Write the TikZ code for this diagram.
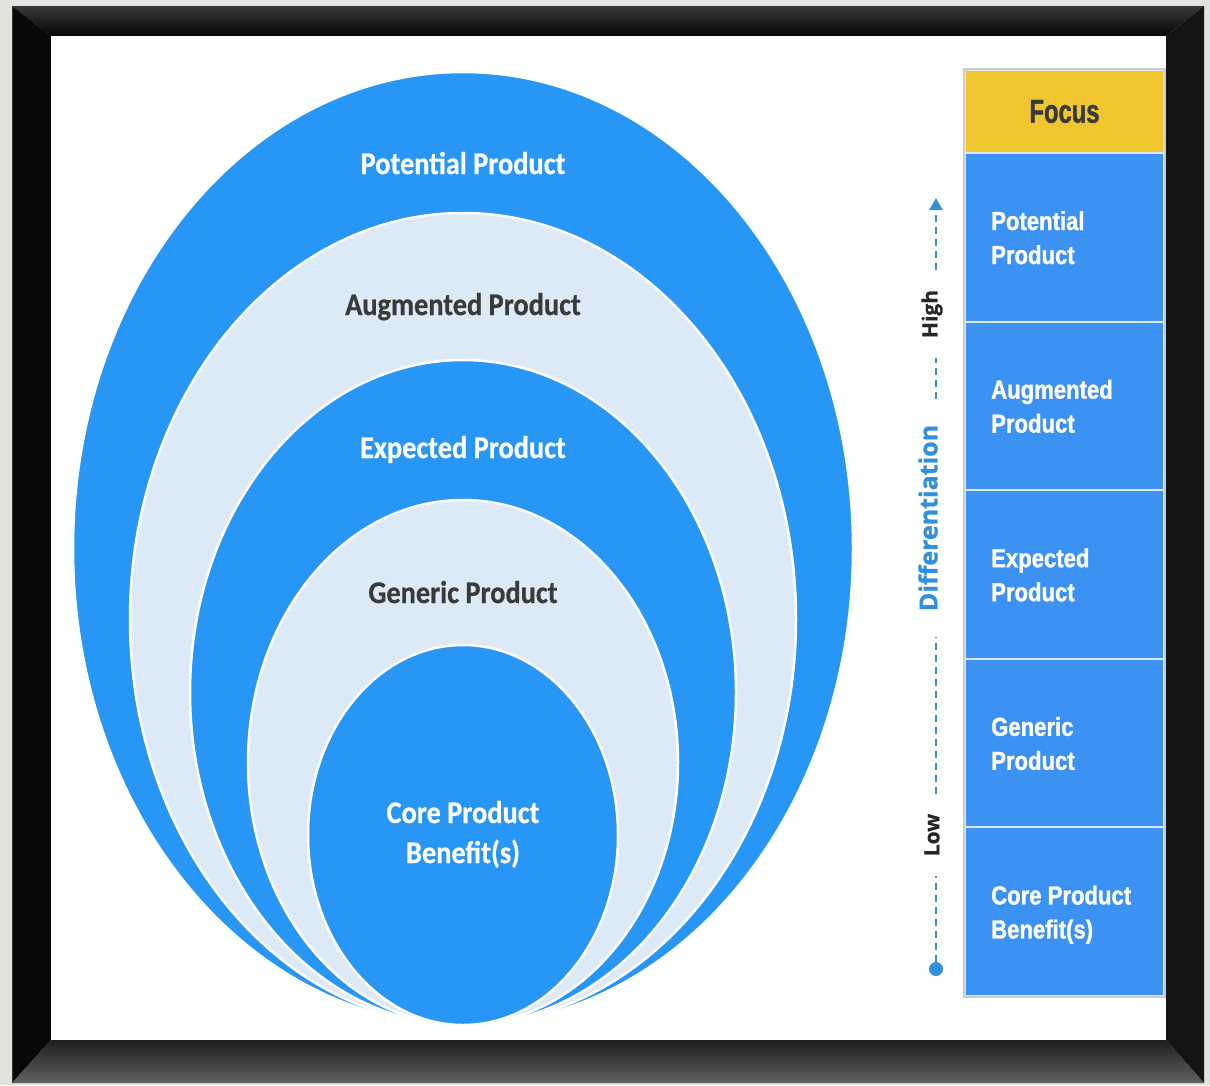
\documentclass[tikz,border=0pt]{standalone}
\usepackage{fontspec}
\usetikzlibrary{arrows.meta}
\newfontfamily\ringfont[FakeStretch=0.9,BoldFeatures={FakeBold=0.6}]{Carlito}
\newfontfamily\cellfont[FakeStretch=0.85,BoldFeatures={FakeBold=1.2}]{Liberation Sans}
\newfontfamily\headfont[FakeStretch=0.72,BoldFeatures={FakeBold=1.2}]{Liberation Sans}
\newfontfamily\axisfont[BoldFeatures={FakeBold=0.8}]{Open Sans}
\definecolor{ringblue}{HTML}{2896F5}
\definecolor{ringlight}{HTML}{DCE9F6}
\definecolor{cellblue}{HTML}{3B92F2}
\definecolor{cellline}{HTML}{DCE5EE}
\definecolor{focusyellow}{HTML}{F0C62E}
\definecolor{axisblue}{HTML}{3090DD}
\definecolor{inkdark}{HTML}{3A3A3A}
\definecolor{wallgray}{HTML}{E4E2DE}
\begin{document}
\begin{tikzpicture}[x=1pt,y=-1pt,
  ringdark/.style={fill=ringblue,draw=white,line width=2.5pt},
  ringpale/.style={fill=ringlight,draw=white,line width=2.5pt},
  ringlabel/.style={anchor=base,inner sep=0pt,font=\ringfont\bfseries\fontsize{31.5}{38}\selectfont},
  cellbox/.style={fill=cellblue,draw=cellline,line width=2pt,minimum width=199pt,minimum height=168.6pt,inner sep=0pt},
  headbox/.style={fill=focusyellow,draw=cellline,line width=2pt,minimum width=199pt,minimum height=83pt,inner sep=0pt,
    text=inkdark,font=\headfont\bfseries\fontsize{33}{40}\selectfont},
  celltext/.style={anchor=base west,inner sep=0pt,text=white,font=\cellfont\bfseries\fontsize{26}{34}\selectfont},
  axislabel/.style={rotate=90,inner ysep=0pt,inner xsep=20pt,font=\axisfont\bfseries\fontsize{21}{25}\selectfont,text=black!85},
  axisline/.style={draw=axisblue,line width=2.8pt,dash pattern=on 7pt off 5pt}
]
\useasboundingbox (0,0) rectangle (1210,1085);

% wall and picture frame
\fill[wallgray] (0,0) rectangle (1210,1085);
\shade[top color=black!78,bottom color=black!98] (12,6) -- (1204,6) -- (1166,36) -- (51,36) -- cycle;
\fill[black!97] (12,6) -- (51,36) -- (51,1040) -- (12,1083) -- cycle;
\fill[black!92] (1204,6) -- (1166,36) -- (1166,1040) -- (1204,1083) -- cycle;
\shade[top color=black!88,middle color=black!84,bottom color=black!62] (12,1083) -- (51,1040) -- (1166,1040) -- (1204,1083) -- cycle;
\draw[black!80,line width=1pt] (12.5,6) -- (12.5,1083);
\fill[white] (51,36) rectangle (1166,1040);

% nested product levels, all touching at the bottom
\path[ringdark] (463,548.5) ellipse [x radius=390pt, y radius=476.5pt];
\path[ringpale] (463,619) ellipse [x radius=333pt, y radius=406pt];
\path[ringdark] (463,692.5) ellipse [x radius=273pt, y radius=332.5pt];
\path[ringpale] (463,762.5) ellipse [x radius=215pt, y radius=262.5pt];
\path[ringdark] (463,835) ellipse [x radius=155pt, y radius=190pt];

\node[ringlabel,text=white] (potential) at (463,174) {Potential Product};
\node[ringlabel,text=inkdark] (augmented) at (463,315) {Augmented Product};
\node[ringlabel,text=white] (expected) at (463,458) {Expected Product};
\node[ringlabel,text=inkdark] (generic) at (463,603) {Generic Product};
\node[ringlabel,text=white] (corea) at (463,823) {Core Product};
\node[ringlabel,text=white] (coreb) at (463,863) {Benefit(s)};

% focus column
\node[headbox] (focus) at (1064.5,111.5) {Focus};
\node[cellbox] (cell1) at (1064.5,237.3) {};
\node[cellbox] (cell2) at (1064.5,405.9) {};
\node[cellbox] (cell3) at (1064.5,574.5) {};
\node[cellbox] (cell4) at (1064.5,743.1) {};
\node[cellbox] (cell5) at (1064.5,911.7) {};
\draw[black!20,line width=1.2pt] (focus.north west) rectangle (cell5.south east);

\node[celltext] (t1a) at (991,230) {Potential};
\node[celltext] (t1b) at (991,264) {Product};
\node[celltext] (t2a) at (991,398.6) {Augmented};
\node[celltext] (t2b) at (991,432.6) {Product};
\node[celltext] (t3a) at (991,567.2) {Expected};
\node[celltext] (t3b) at (991,601.2) {Product};
\node[celltext] (t4a) at (991,735.8) {Generic};
\node[celltext] (t4b) at (991,769.8) {Product};
\node[celltext] (t5a) at (991,904.4) {Core Product};
\node[celltext] (t5b) at (991,938.4) {Benefit(s)};

% differentiation axis
\coordinate (tip) at (936,198);
\node[fill=axisblue,circle,minimum size=14pt,inner sep=0pt] (dot) at (936,969) {};
\node[axislabel] (low) at (932,835) {Low};
\node[axislabel,text=axisblue,font=\axisfont\bfseries\fontsize{25}{30}\selectfont,inner xsep=26pt] (diff) at (928,518) {Differentiation};
\node[axislabel] (high) at (932,314) {High};

\draw[axisline] (dot) -- (dot |- low.west);
\draw[axisline] (dot |- low.east) -- (dot |- diff.west);
\draw[axisline] (dot |- diff.east) -- (dot |- high.west);
\draw[axisline,-{Triangle[width=13pt,length=12pt]}] (dot |- high.east) -- (tip);
\end{tikzpicture}
\end{document}
